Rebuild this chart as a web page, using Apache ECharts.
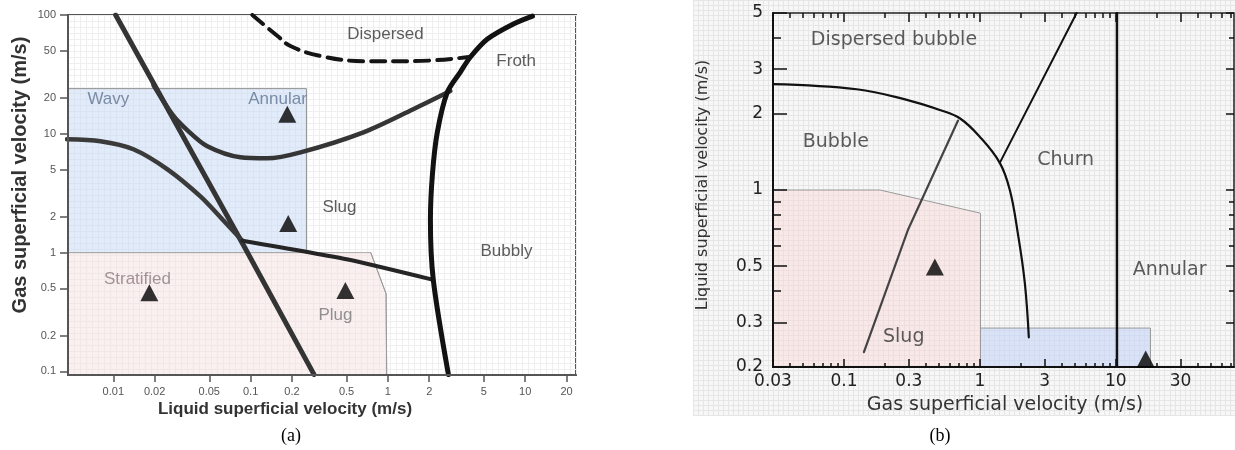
<!DOCTYPE html>
<html><head><meta charset="utf-8">
<script src="https://cdn.jsdelivr.net/npm/echarts@6/dist/echarts.min.js"></script>
<style>html,body{margin:0;padding:0;background:#fff}#c{width:1235px;height:450px}</style>
</head><body><div id="c"></div>
<script>
// ---------- Panel (a): x = liquid superficial velocity (m/s), y = gas superficial velocity (m/s)
const aXTicks = [0.01,0.02,0.05,0.1,0.2,0.5,1,2,5,10,20];
const aYTicks = [0.1,0.2,0.5,1,2,5,10,20,50,100];
const aLineA = [[0.0104,100],[0.09,1.12],[0.29,0.094]];
const aLineB = [[0.0196,25.7],[0.0269,14.6],[0.0347,10.7],[0.0484,7.85],[0.0843,6.34],[0.132,6.22],[0.231,6.98],[0.664,10.3],[1.53,16.1],[2.85,22.9]];
const aLineC = [[0.0046,9.0],[0.00805,8.66],[0.014,7.41],[0.0248,5.02],[0.0431,2.97],[0.0624,1.9],[0.0871,1.26]];
const aLineD = [[0.0871,1.26],[0.5,0.88],[2.11,0.593]];
const aLineE = [[2.76,0.094],[2.14,0.593],[2.04,1.9],[2.11,4.56],[2.29,10.3],[2.71,22.4],[3.37,33.1],[3.99,44.3],[5.31,62.8],[8.2,84.1],[11.3,98]];
const aDashed = [[0.103,100],[0.157,66.5],[0.195,54.8],[0.322,45.2],[0.664,40.9],[1.53,40.9],[3.9,44.3]];
const aPlugEdge = [[0.75,1],[0.97,0.45],[0.98,0.094]];
const aWavyZone = [[0.0046,1],[0.255,1],[0.255,24],[0.0046,24]];
const aStratZone = [[0.0046,0.094],[0.0046,1],[0.75,1],[0.97,0.45],[0.98,0.094]];
const aPoints = [[0.185,14.6],[0.188,1.76],[0.0183,0.46],[0.49,0.479]];
const aLabels = [['Dispersed',0.96,69],['Froth',8.6,41],['Wavy',0.0092,19.6],['Annular',0.157,19.6],['Slug',0.444,2.4],['Stratified',0.015,0.593],['Plug',0.415,0.294],['Bubbly',7.3,1.02]];

// ---------- Panel (b): x = gas superficial velocity (m/s), y = liquid superficial velocity (m/s)
const bXTicks = [0.03,0.1,0.3,1,3,10,30];
const bXMinor = [0.04,0.05,0.06,0.07,0.08,0.09,0.2,0.4,0.5,0.6,0.7,0.8,0.9,2,4,5,6,7,8,9,20,40,50,60,70];
const bYTicks = [0.2,0.3,0.5,1,2,3,5];
const bYMinor = [0.4,0.6,0.7,0.8,0.9,4];
const bDispersedCurve = [[0.03,2.62],[0.124,2.5],[0.29,2.27],[0.507,2.07],[0.711,1.92],[1.0,1.62],[1.4,1.28],[1.66,1.0],[1.9,0.676],[2.14,0.43],[2.29,0.262]];
const bSlugLine = [[0.14,0.229],[0.295,0.695],[0.69,1.88]];
const bChurnLine = [[1.4,1.28],[5.15,5]];
const bAnnularLine = [[10.2,0.2],[10.2,5]];
const bSlugZone = [[0.03,0.2],[0.03,1],[0.184,1],[1.01,0.81],[1.01,0.2]];
const bAnnularZone = [[1.01,0.2],[1.01,0.285],[18,0.285],[18,0.2]];
const bPoints = [[0.466,0.497],[16.6,0.215]];
const bLabels = [['Dispersed bubble',0.233,3.91],['Bubble',0.087,1.55],['Churn',4.28,1.31],['Annular',24.9,0.483],['Slug',0.275,0.262]];

const aLabelColors = {Wavy:'#5f7391', Annular:'#5f7391', Stratified:'#8c7a7e', Plug:'#777777'};

const lg = v => Math.log10(v);
const fmt = ticks => v => { const t = ticks.find(t => Math.abs(lg(t) - v) < 1e-6); return t === undefined ? '' : String(t); };
const toLog = pts => pts.map(p => [lg(p[0]), lg(p[1])]);

function zone(pts, xi, yi, fill, stroke) {
  return {
    type: 'custom', xAxisIndex: xi, yAxisIndex: yi, z: 1, silent: true,
    data: [toLog(pts)[0]],
    renderItem: (params, api) => {
      const cs = params.coordSys;
      const points = toLog(pts).map(p => {
        const c = api.coord(p);
        return [Math.min(Math.max(c[0], cs.x), cs.x + cs.width), Math.min(Math.max(c[1], cs.y), cs.y + cs.height)];
      });
      return {type: 'polygon', shape: {points}, style: {fill, stroke, lineWidth: 1}};
    }
  };
}
function line(pts, xi, yi, color, width, smooth, type) {
  return {
    type: 'line', xAxisIndex: xi, yAxisIndex: yi, data: toLog(pts), symbol: 'none', silent: true,
    smooth: smooth || false, z: 2, clip: true,
    lineStyle: {color, width, type: type || 'solid', cap: 'round', join: 'round'}
  };
}
function tri(pts, xi, yi) {
  return {type: 'scatter', xAxisIndex: xi, yAxisIndex: yi, data: toLog(pts), symbol: 'triangle',
    symbolSize: [18, 17], itemStyle: {color: '#000'}, z: 4, silent: true, clip: false};
}
function labels(items, xi, yi, font, size, colors) {
  return {
    type: 'scatter', xAxisIndex: xi, yAxisIndex: yi, symbolSize: 1, silent: true, z: 5,
    itemStyle: {color: 'rgba(0,0,0,0)'},
    label: {show: true, position: 'inside', formatter: '{b}', fontFamily: font, fontSize: size, color: '#333'},
    data: items.map(l => ({name: l[0], value: [lg(l[1]), lg(l[2])],
      label: {color: (colors && colors[l[0]]) || '#333'}}))
  };
}
const hidden = {axisLine: {show: false, onZero: false}, axisTick: {show: false}, axisLabel: {show: false}};
function gridAxis(gi, max, color, z) {
  return Object.assign({type: 'value', gridIndex: gi, min: 0, max, interval: 1, z,
    splitLine: {show: true, lineStyle: {color, width: 1}}}, hidden);
}
function tickAxis(gi, min, max, pos, vals, len, inside, labelTicks, labelStyle, showLine, lineColor) {
  return {
    type: 'value', gridIndex: gi, min, max, position: pos, z: 3,
    axisLine: {show: !!showLine, onZero: false, lineStyle: {color: lineColor || '#000', width: 2}},
    axisTick: {show: true, inside, length: len, customValues: vals.map(lg), lineStyle: {color: lineColor || '#000', width: 1.5}},
    axisLabel: labelTicks ? Object.assign({show: true, customValues: labelTicks.map(lg), formatter: fmt(labelTicks)}, labelStyle) : {show: false},
    splitLine: {show: false}
  };
}

const chart = echarts.init(document.getElementById('c'), null, {renderer: 'canvas'});
const aTickFont = {color: '#555', fontSize: 11, fontFamily: 'Liberation Sans'};
const bTickFont = {color: '#222', fontSize: 17, fontFamily: 'DejaVu Sans'};

chart.setOption({
  animation: false,
  backgroundColor: '#ffffff',
  grid: [
    {left: 693, top: 0, width: 542, height: 415, show: true, backgroundColor: '#f7f7f7', borderWidth: 0, z: -2},
    {left: 68, top: 15, width: 508, height: 360, show: true, backgroundColor: '#ffffff', borderColor: '#555', borderWidth: 2},
    {left: 773, top: 13, width: 461, height: 354, show: true, backgroundColor: 'rgba(0,0,0,0)', borderColor: '#222', borderWidth: 1.5}
  ],
  xAxis: [
    gridAxis(0, 108, '#e6e6e6', -1),
    gridAxis(1, 85, '#efefef', 0),
    tickAxis(1, -2.33, 1.37, 'bottom', aXTicks, 7, false, aXTicks, Object.assign({margin: 11}, aTickFont), true, '#555'),
    tickAxis(2, lg(0.03), 1.87, 'bottom', bXTicks, 8, true, bXTicks, Object.assign({margin: 6}, bTickFont), true, '#111'),
    tickAxis(2, lg(0.03), 1.87, 'bottom', bXMinor, 4, true, null, null, false, '#111'),
    tickAxis(2, lg(0.03), 1.87, 'top', bXTicks, 9, true, null, null, false, '#111'),
    tickAxis(2, lg(0.03), 1.87, 'top', bXMinor, 5, true, null, null, false, '#111')
  ],
  yAxis: [
    gridAxis(0, 83, '#e6e6e6', -1),
    gridAxis(1, 60, '#efefef', 0),
    tickAxis(1, -1.03, 2.0, 'left', aYTicks, 8, false, aYTicks, Object.assign({margin: 12}, aTickFont), true, '#555'),
    tickAxis(2, lg(0.2), lg(5), 'left', bYTicks, 14, true, bYTicks, Object.assign({margin: 10}, bTickFont), true, '#111'),
    tickAxis(2, lg(0.2), lg(5), 'left', bYMinor, 8, true, null, null, false, '#111'),
    tickAxis(2, lg(0.2), lg(5), 'right', bYTicks, 8, true, null, null, false, '#111'),
    tickAxis(2, lg(0.2), lg(5), 'right', bYMinor, 5, true, null, null, false, '#111')
  ],
  series: [
    // panel (a)
    zone(aWavyZone, 2, 2, 'rgba(196,216,244,0.5)', '#8f8f8f'),
    zone(aStratZone, 2, 2, 'rgba(246,222,222,0.45)', '#a9a9a9'),
    line(aPlugEdge, 2, 2, '#9a9a9a', 1),
    line(aLineA, 2, 2, '#343434', 5),
    line(aLineB, 2, 2, '#353535', 4.5, 0.3),
    line(aLineC, 2, 2, '#3a3a3a', 4.5, 0.3),
    line(aLineD, 2, 2, '#252525', 4, 0.2),
    line(aLineE, 2, 2, '#121212', 5, 0.3),
    line(aDashed, 2, 2, '#151515', 4, 0.4, [14, 8]),
    tri(aPoints, 2, 2),
    labels(aLabels, 2, 2, 'Liberation Sans', 17, aLabelColors),
    // panel (b)
    zone(bSlugZone, 3, 3, 'rgba(250,212,212,0.45)', '#9a9a9a'),
    zone(bAnnularZone, 3, 3, 'rgba(196,212,245,0.6)', '#9a9a9a'),
    line(bDispersedCurve, 3, 3, '#111', 2.2, 0.4),
    line(bSlugLine, 3, 3, '#444', 2.2),
    line(bChurnLine, 3, 3, '#111', 2),
    line(bAnnularLine, 3, 3, '#111', 2.5),
    tri(bPoints, 3, 3),
    labels(bLabels, 3, 3, 'DejaVu Sans', 19, null)
  ],
  graphic: [
    {type: 'text', x: 20, y: 175, rotation: Math.PI / 2, z: 10, silent: true,
      style: {text: 'Gas superficial velocity (m/s)', fontSize: 20, fontWeight: 'bold', fontFamily: 'Liberation Sans', fill: '#333', align: 'center', verticalAlign: 'middle'}},
    {type: 'text', x: 285, y: 409, z: 10, silent: true,
      style: {text: 'Liquid superficial velocity (m/s)', fontSize: 17, fontWeight: 'bold', fontFamily: 'Liberation Sans', fill: '#333', align: 'center', verticalAlign: 'middle'}},
    {type: 'text', x: 703, y: 185, rotation: Math.PI / 2, z: 10, silent: true,
      style: {text: 'Liquid superficial velocity (m/s)', fontSize: 16, fontFamily: 'DejaVu Sans', fill: '#333', align: 'center', verticalAlign: 'middle'}},
    {type: 'text', x: 1005, y: 405, z: 10, silent: true,
      style: {text: 'Gas superficial velocity (m/s)', fontSize: 19, fontFamily: 'DejaVu Sans', fill: '#333', align: 'center', verticalAlign: 'middle'}},
    {type: 'text', x: 291, y: 436, z: 10, silent: true,
      style: {text: '(a)', fontSize: 18, fontFamily: 'Liberation Serif', fill: '#000', align: 'center', verticalAlign: 'middle'}},
    {type: 'text', x: 940, y: 436, z: 10, silent: true,
      style: {text: '(b)', fontSize: 18, fontFamily: 'Liberation Serif', fill: '#000', align: 'center', verticalAlign: 'middle'}}
  ]
});
</script>
</body></html>
